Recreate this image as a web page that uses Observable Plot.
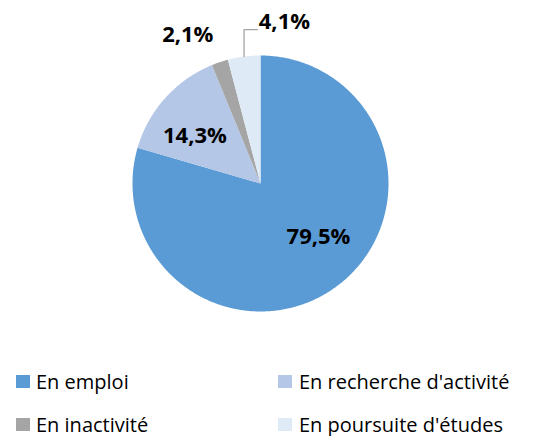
<!DOCTYPE html>
<html>
<head>
<meta charset="utf-8">
<script src="https://cdn.jsdelivr.net/npm/d3@7"></script>
<script src="https://cdn.jsdelivr.net/npm/@observablehq/plot@0.6"></script>
<style>
  html, body { margin: 0; padding: 0; background: #fff; }
  #wrap { position: relative; width: 535px; height: 436px; font-family: "Open Sans", sans-serif; }
  #legend { position: absolute; left: 0; top: 366px; width: 535px; }
  .item { position: absolute; display: flex; align-items: center; font-size: 20px; color: #000; white-space: nowrap; }
  .sw { width: 14px; height: 13px; margin-right: 6px; }
</style>
</head>
<body>
<div id="wrap"><div id="chart"></div><div id="legend"></div></div>
<script>
const categories = ["En emploi", "En recherche d'activité", "En inactivité", "En poursuite d'études"];
const values = [79.5, 14.3, 2.1, 4.1];
const valueLabels = ["79,5%", "14,3%", "2,1%", "4,1%"];
const palette = ["#5B9BD5", "#B4C7E7", "#A5A5A5", "#DEEBF7"];

const data = categories.map((c, i) => ({cat: c, value: values[i], label: valueLabels[i]}));
const arcs = d3.pie().sort(null).value(d => d.value)(data);

// polygon points for each slice, in unit-circle coordinates (angle clockwise from 12 o'clock)
const pts = [];
for (const a of arcs) {
  const n = Math.max(2, Math.ceil((a.endAngle - a.startAngle) / 0.01));
  pts.push({cat: a.data.cat, x: 0, y: 0});
  for (let k = 0; k <= n; k++) {
    const t = a.startAngle + (a.endAngle - a.startAngle) * k / n;
    pts.push({cat: a.data.cat, x: Math.sin(t), y: Math.cos(t)});
  }
}

// label placement (layout only)
const inside = {0: {r: 0.6, ox: 0.093, oy: 0.066}, 1: {r: 0.6, ox: -0.066, oy: -0.03}};
const outside = {2: {r: 1.0, ox: -0.25, oy: 0.21, anchor: "middle"}, 3: {r: 1.0, ox: 0.115, oy: 0.27, anchor: "start"}};
const labelRows = [];
const leader = [];
arcs.forEach((a, i) => {
  const m = (a.startAngle + a.endAngle) / 2;
  if (inside[i] != null) {
    const o = inside[i];
    labelRows.push({x: Math.sin(m) * o.r + o.ox, y: Math.cos(m) * o.r + o.oy, text: a.data.label, anchor: "middle"});
  } else {
    const o = outside[i];
    const ex = Math.sin(m) * o.r, ey = Math.cos(m) * o.r;
    const lx = ex + o.ox, ly = ey + o.oy;
    labelRows.push({x: lx, y: ly, text: a.data.label, anchor: o.anchor});
    if (o.anchor === "start") {
      leader.push({x: ex, y: ey}, {x: ex, y: ly - 0.06}, {x: lx - 0.01, y: ly - 0.06});
    }
  }
});

const plot = Plot.plot({
  width: 535,
  height: 366,
  margin: 0,
  style: {fontFamily: "'Open Sans', sans-serif", background: "white"},
  x: {domain: [-1, 1], range: [132, 388], axis: null},
  y: {domain: [-1, 1], range: [311, 55], axis: null},
  color: {domain: categories, range: palette},
  marks: [
    Plot.line(pts, {x: "x", y: "y", z: "cat", fill: "cat", stroke: null, curve: "linear-closed"}),
    Plot.line(leader, {x: "x", y: "y", stroke: "#A5A5A5", strokeWidth: 1.3}),
    Plot.text(labelRows.filter(d => d.anchor === "middle"), {x: "x", y: "y", text: "text", fontSize: 22, fontWeight: "bold", fill: "black", textAnchor: "middle"}),
    Plot.text(labelRows.filter(d => d.anchor === "start"), {x: "x", y: "y", text: "text", fontSize: 22, fontWeight: "bold", fill: "black", textAnchor: "start"})
  ]
});
document.getElementById("chart").appendChild(plot);

// legend below
const legend = document.getElementById("legend");
const slots = [[16, 15], [278, 15], [16, 58], [278, 58]];
categories.forEach((c, i) => {
  const it = document.createElement("div");
  it.className = "item";
  it.style.left = slots[i][0] + "px";
  it.style.top = (slots[i][1] - 14) + "px";
  it.style.height = "28px";
  const sw = document.createElement("span");
  sw.className = "sw";
  sw.style.background = palette[i];
  if (i === 1) sw.style.marginRight = "7px";
  if (i === 3) sw.style.marginRight = "7px";
  const tx = document.createElement("span");
  tx.textContent = c;
  it.appendChild(sw); it.appendChild(tx);
  legend.appendChild(it);
});
</script>
</body>
</html>
